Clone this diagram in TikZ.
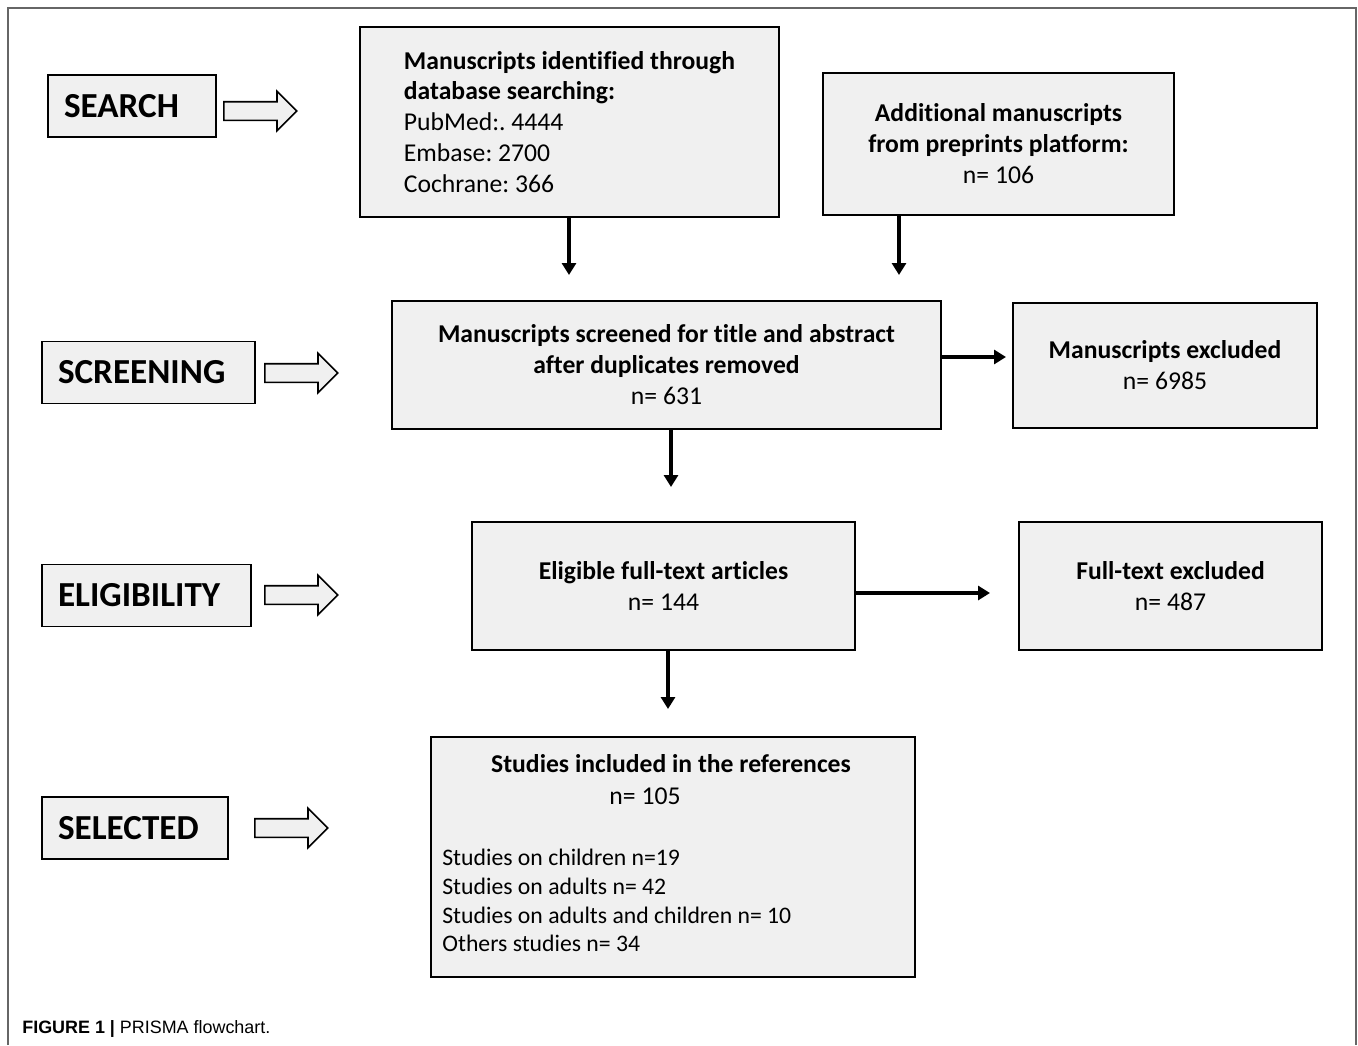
\documentclass[tikz,border=0pt]{standalone}
\usepackage{fontspec}
\setmainfont{Carlito}[Ligatures=NoCommon]
\newfontfamily\capfont{Liberation Sans}
\frenchspacing
\usetikzlibrary{arrows.meta,shapes.arrows}

\tikzset{
  box/.style={draw, line width=1.1pt, fill=black!6, inner sep=0pt,
    font=\fontsize{14.6}{17.6}\selectfont, align=center},
  lab/.style={draw, line width=1.1pt, fill=black!6, inner xsep=0.32cm,
    minimum height=1.24cm, align=left, font=\fontsize{20}{24}\selectfont\bfseries},
  hollow/.style={shape=single arrow, draw, line width=0.9pt, fill=black!6,
    inner xsep=0pt, inner ysep=0.17cm, single arrow head extend=0.21cm,
    single arrow tip angle=90, minimum height=1.46cm, anchor=west},
  flow/.style={line width=2.2pt, -{Triangle[length=0.24cm,width=0.28cm]}}
}

\begin{document}
\begin{tikzpicture}[x=0.02cm,y=-0.02cm]
    \useasboundingbox (0,0) rectangle (1358,1045);
    \draw[black!60, line width=1.1pt] (8,1045) -- (8,8) -- (1356,8) -- (1356,1045);

    \node[lab, text width=2.72cm] (search) at (132,106) {SEARCH};
    \node[lab, text width=3.62cm] (screening) at (148.5,372.5) {SCREENING};
    \node[lab, text width=3.54cm] (eligibility) at (146.5,595.5) {ELIGIBILITY};
    \node[lab, text width=3.08cm] (selected) at (135,828) {SELECTED};

    \node[hollow] (h1) at (223,111) {};
    \node[hollow] (h2) at (264,373) {};
    \node[hollow] (h3) at (264,595) {};
    \node[hollow] (h4) at (254,828) {};

    \node[box, align=left, minimum width=8.38cm, minimum height=3.8cm] (db) at (569.5,122)
        {\textbf{Manuscripts identified through}\\ \textbf{database searching:}\\ PubMed:. 4444\\ Embase: 2700\\ Cochrane: 366};
    \node[box, minimum width=7.02cm, minimum height=2.84cm] (pre) at (998.5,144)
        {\textbf{Additional manuscripts}\\ \textbf{from preprints platform:}\\ n= 106};
    \node[box, minimum width=10.98cm, minimum height=2.56cm] (screen) at (666.5,365)
        {\textbf{Manuscripts screened for title and abstract}\\ \textbf{after duplicates removed}\\ n= 631};
    \node[box, minimum width=6.08cm, minimum height=2.5cm] (excl) at (1165,365.5)
        {\textbf{Manuscripts excluded}\\ n= 6985};
    \node[box, minimum width=7.66cm, minimum height=2.56cm] (elig) at (663.5,586)
        {\textbf{Eligible full-text articles}\\ n= 144};
    \node[box, minimum width=6.06cm, minimum height=2.56cm] (ft) at (1170.5,586)
        {\textbf{Full-text excluded}\\ n= 487};
    \node[box, minimum width=9.68cm, minimum height=4.8cm] (sel) at (673,857) {};
    \node[font=\fontsize{14.6}{17.6}\selectfont\bfseries, anchor=base, inner sep=0pt] (seltitle) at (671,772)
        {Studies included in the references};
    \node[font=\fontsize{14.6}{17.6}\selectfont, anchor=base, inner sep=0pt] (seln) at (645,804) {n= 105};
    \node[font=\fontsize{13.5}{16.4}\selectfont, align=left, anchor=west, inner sep=0pt] (sellist) at (442,900.5)
        {Studies on children n=19\\ Studies on adults n= 42\\ Studies on adults and children n= 10\\ Others studies n= 34};

    \coordinate (d1) at (569,275);
    \coordinate (d2) at (899,275);
    \coordinate (r1) at (1006,357);
    \coordinate (d3) at (671,487);
    \coordinate (r2) at (990,593);
    \coordinate (d4) at (668,709);

    \draw[flow] (db.south -| d1) -- (d1);
    \draw[flow] (pre.south -| d2) -- (d2);
    \draw[flow] (screen.east |- r1) -- (r1);
    \draw[flow] (screen.south -| d3) -- (d3);
    \draw[flow] (elig.east |- r2) -- (r2);
    \draw[flow] (elig.south -| d4) -- (d4);

    \node[anchor=base west, inner sep=0pt, font=\capfont\fontsize{10.2}{12}\selectfont] (caption) at (22,1033)
        {\textbf{FIGURE 1 |} PRISMA flowchart.};
\end{tikzpicture}
\end{document}
